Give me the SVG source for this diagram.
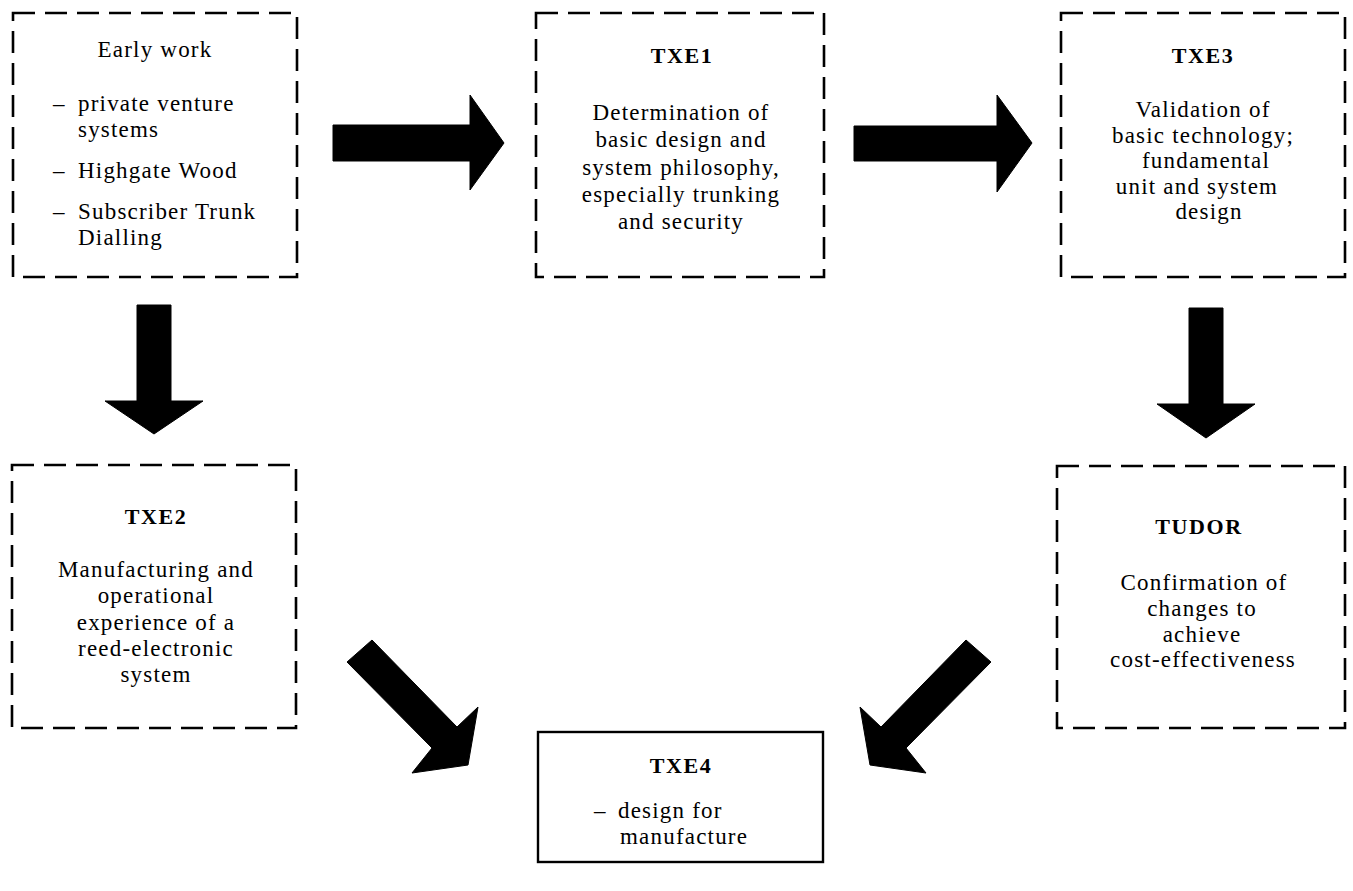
<svg xmlns="http://www.w3.org/2000/svg" width="1353" height="891" viewBox="0 0 1353 891">
<style>
.box{fill:none;stroke:#000;stroke-width:2.6;stroke-dasharray:22 10;}
.solid{fill:none;stroke:#000;stroke-width:2.4;}
text{font-family:"Liberation Serif","Times New Roman",serif;font-size:23px;fill:#000;letter-spacing:1.2px;}
.t{font-weight:bold;letter-spacing:1.6px;font-size:22px;}
.c{text-anchor:middle;}
.arrow{fill:#000;stroke:#000;stroke-width:1;stroke-linejoin:round;}
</style>
<rect width="1353" height="891" fill="#fff"/>

<g id="connectors">
  <polygon class="arrow" points="333,125 470,125 470,95 504,143 470,190 470,161 333,161"/>
  <polygon class="arrow" points="854,126 997,126 997,95 1032,143 997,192 997,161 854,161"/>
  <polygon class="arrow" points="137,305 171,305 171,401 203,401 154,434 105,401 137,401"/>
  <polygon class="arrow" points="1189,308 1223,308 1223,404 1255,404 1206,438 1157,404 1189,404"/>
  <polygon class="arrow" points="372,640 457,727 478,707 468,765 412,773 432,748 347,662"/>
  <polygon class="arrow" points="966,640 881,727 860,707 870,765 926,773 906,748 991,662"/>
</g>

<g id="early-work">
  <rect class="box" x="13" y="13" width="284" height="264"/>
  <text class="c" x="155" y="57">Early work</text>
  <text x="53" y="111">–</text><text x="78" y="111">private venture</text>
  <text x="78" y="137">systems</text>
  <text x="53" y="178">–</text><text x="78" y="178">Highgate Wood</text>
  <text x="53" y="219">–</text><text x="78" y="219">Subscriber Trunk</text>
  <text x="78" y="245">Dialling</text>
</g>

<g id="txe1">
  <rect class="box" x="536" y="13" width="288" height="264"/>
  <text class="c t" x="682" y="63">TXE1</text>
  <text class="c" x="681" y="120">Determination of</text>
  <text class="c" x="681" y="147">basic design and</text>
  <text class="c" x="681" y="175">system philosophy,</text>
  <text class="c" x="681" y="202">especially trunking</text>
  <text class="c" x="681" y="229">and security</text>
</g>

<g id="txe3">
  <rect class="box" x="1061" y="13" width="284" height="264"/>
  <text class="c t" x="1203" y="63">TXE3</text>
  <text class="c" x="1203" y="117">Validation of</text>
  <text class="c" x="1203" y="143">basic technology;</text>
  <text class="c" x="1206" y="168">fundamental</text>
  <text class="c" x="1197" y="194">unit and system</text>
  <text class="c" x="1209" y="219">design</text>
</g>

<g id="txe2">
  <rect class="box" x="12" y="465" width="284" height="263"/>
  <text class="c t" x="156" y="524">TXE2</text>
  <text class="c" x="156" y="577">Manufacturing and</text>
  <text class="c" x="156" y="603">operational</text>
  <text class="c" x="156" y="630">experience of a</text>
  <text class="c" x="156" y="656">reed-electronic</text>
  <text class="c" x="156" y="682">system</text>
</g>

<g id="tudor">
  <rect class="box" x="1057" y="466" width="288" height="262"/>
  <text class="c t" x="1199" y="534">TUDOR</text>
  <text class="c" x="1204" y="590">Confirmation of</text>
  <text class="c" x="1202" y="616">changes to</text>
  <text class="c" x="1202" y="642">achieve</text>
  <text class="c" x="1203" y="667">cost-effectiveness</text>
</g>

<g id="txe4">
  <rect class="solid" x="538" y="732" width="285" height="130"/>
  <text class="c t" x="681" y="773">TXE4</text>
  <text x="594" y="818">–</text><text x="618" y="818">design for</text>
  <text x="620" y="844">manufacture</text>
</g>
</svg>
